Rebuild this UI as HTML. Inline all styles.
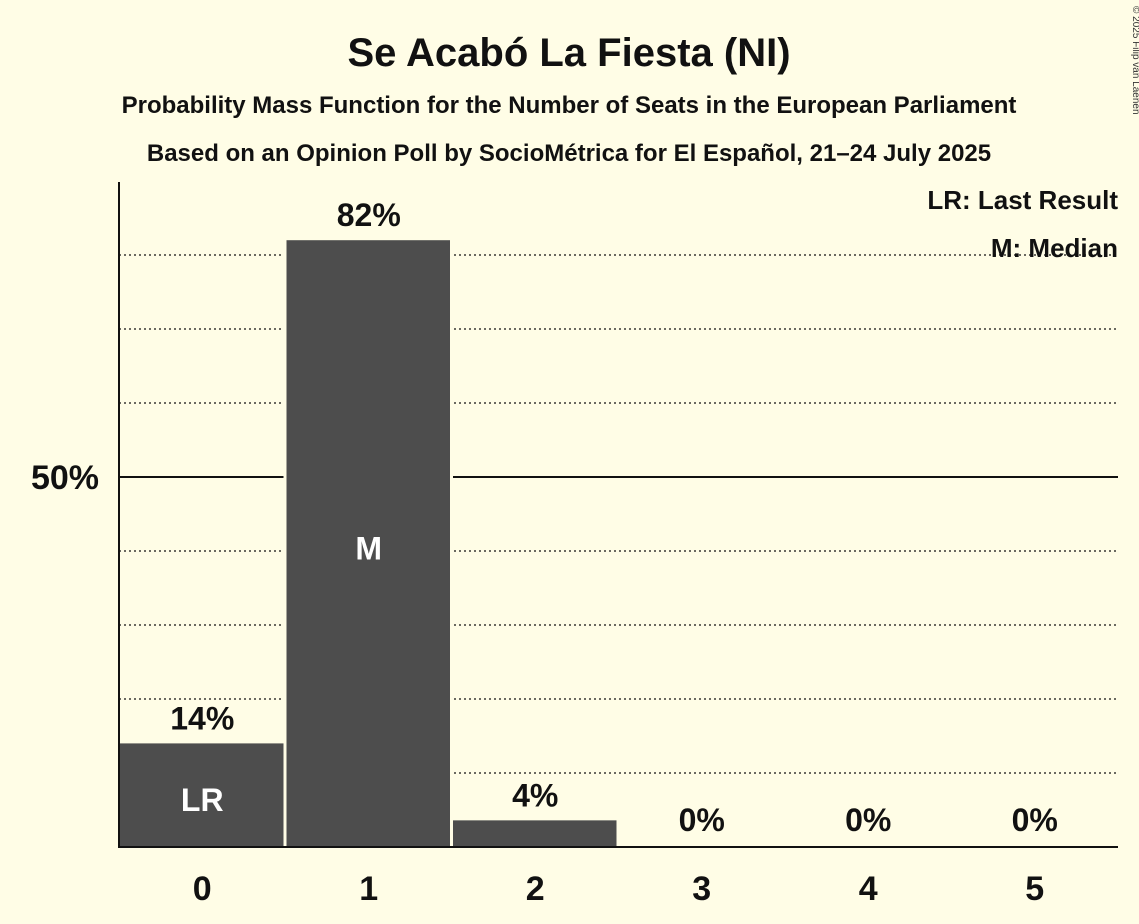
<!DOCTYPE html>
<html><head><meta charset="utf-8"><style>
body{margin:0;background:#fffde6;}
svg{display:block;font-family:"Liberation Sans",sans-serif;}
</style></head><body>
<svg width="1139" height="924">
<rect width="1139" height="924" fill="#fffde6"/>
<text x="569" y="66" text-anchor="middle" font-size="40" font-weight="bold" fill="#111">Se Acabó La Fiesta (NI)</text>
<text x="569" y="113" text-anchor="middle" font-size="24" font-weight="bold" fill="#111">Probability Mass Function for the Number of Seats in the European Parliament</text>
<text x="569" y="161" text-anchor="middle" font-size="24" font-weight="bold" fill="#111">Based on an Opinion Poll by SocioMétrica for El Español, 21–24 July 2025</text>
<text x="1133" y="6" font-size="10" fill="#333" transform="rotate(90 1133 6)">© 2025 Filip van Laenen</text>
<g id="grid"></g>
<g id="bars"></g>
<line x1="119" y1="182" x2="119" y2="848" stroke="#111" stroke-width="2"/>
<line x1="118" y1="847" x2="1118" y2="847" stroke="#111" stroke-width="2"/>
<text x="99" y="489" text-anchor="end" font-size="34" font-weight="bold" fill="#111">50%</text>
<text x="1118" y="209" text-anchor="end" font-size="26" font-weight="bold" fill="#111">LR: Last Result</text>
<text x="1118" y="257" text-anchor="end" font-size="26" font-weight="bold" fill="#111">M: Median</text>
</svg>
<script>
const seats=[0,1,2,3,4,5];
const probs=[0.14,0.82,0.036,0,0,0];
const valueLabels=["14%","82%","4%","0%","0%","0%"];
const markers=["LR","M","","","",""];
const ns="http://www.w3.org/2000/svg";
const x0=119,step=166.5,y0=847,yPer=740;
const y=v=>y0-v*yPer, x=i=>x0+i*step;
const grid=document.getElementById('grid'),bars=document.getElementById('bars');
function mk(t,a,p){const e=document.createElementNS(ns,t);for(const k in a)e.setAttribute(k,a[k]);p.appendChild(e);return e;}
for(let k=1;k<=8;k++){const v=k/10;
const l=mk('line',{x1:119,x2:1118,y1:y(v),y2:y(v),stroke:'#111','stroke-width':k===5?2:1.3,'stroke-dasharray':k===5?'':'2,3'},grid);

}
seats.forEach((s,i)=>{
const p=probs[i];
if(p>0){
const g=mk('rect',{x:x(i)-2,y:y(p)-2,width:step+3,height:y0-y(p)+2,fill:'#fffde6'},bars);


const r=mk('rect',{x:x(i)+1,y:y(p),width:step-3,height:y0-y(p),fill:'#4d4d4d'},bars);


}
const t=mk('text',{x:x(i)+step/2,y:y(p)-14,'text-anchor':'middle','font-size':32,'font-weight':'bold',fill:'#111'},bars);
if(p===0)t.setAttribute('y',y0-16);
t.textContent=valueLabels[i];


if(markers[i]){const m=mk('text',{x:x(i)+step/2,y:i===0?y0-36:(y0+y(p))/2+16,'text-anchor':'middle','font-size':32,'font-weight':'bold',fill:'#fff'},bars);
m.textContent=markers[i];

}
const xt=mk('text',{x:x(i)+step/2,y:900,'text-anchor':'middle','font-size':34,'font-weight':'bold',fill:'#111'},bars);
xt.textContent=s;


});
</script>
</body></html>
